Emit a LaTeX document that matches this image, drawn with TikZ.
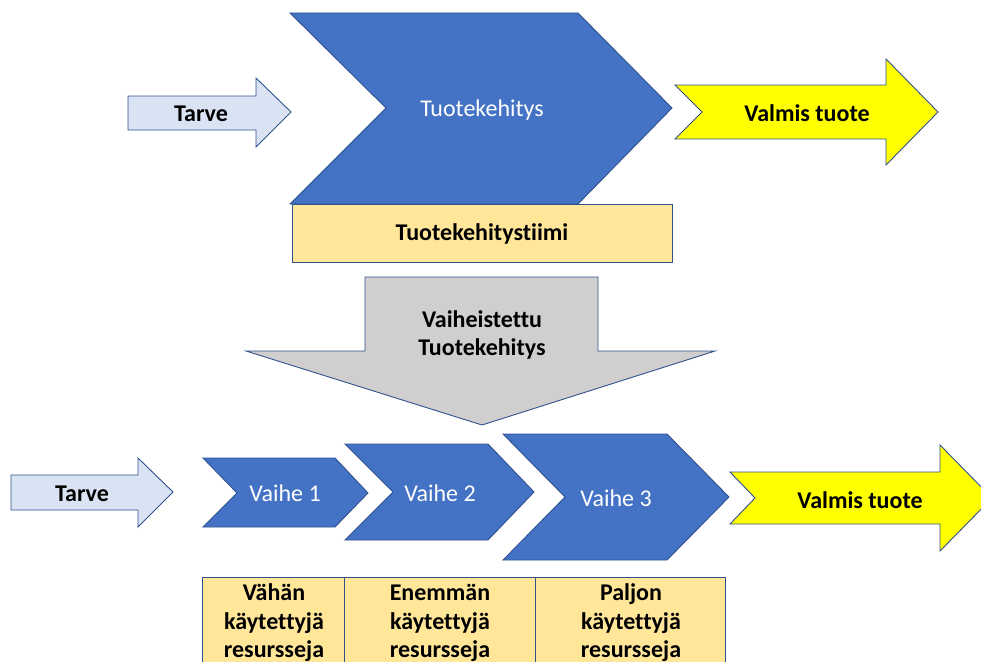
\documentclass[tikz,border=0pt]{standalone}
\usepackage{fontspec}
\setmainfont{Carlito}[Ligatures=NoCommon]
\definecolor{edge}{HTML}{2F528F}
\definecolor{blu}{HTML}{4472C4}
\definecolor{ltblue}{HTML}{DAE3F3}
\definecolor{yel}{HTML}{FFFF00}
\definecolor{ltyel}{HTML}{FFE699}
\definecolor{gry}{HTML}{D0CECE}
\begin{document}
\begin{tikzpicture}[x=1pt,y=-1pt,
  shp/.style={draw=edge, line width=0.9pt, line join=miter},
  txt/.style={font=\fontsize{24}{28.5}\selectfont, align=center, inner sep=0pt},
  btxt/.style={font=\fontsize{24}{28.5}\selectfont\bfseries, align=center, inner sep=0pt}]
\useasboundingbox (0,0) rectangle (981,661);
\clip (0,0) rectangle (981,661);
% top row
\draw[shp, fill=ltblue] (128,96) -- (256,96) -- (256,78) -- (291,112) -- (256,147) -- (256,130) -- (128,130) -- cycle;
\node[btxt] (tarve1) at (201,114) {Tarve};
\draw[shp, fill=blu] (290,13) -- (578,13) -- (672,108) -- (578,204) -- (290,204) -- (386,108) -- cycle;
\node[txt, text=white] (tk) at (482,110) {Tuotekehitys};
\draw[shp, fill=ltyel] (292,204) rectangle (672,262);
\node[btxt] (tiimi) at (482,234) {Tuotekehitystiimi};
\draw[shp, fill=yel] (675,85) -- (886,85) -- (886,59) -- (938,112) -- (886,165) -- (886,139) -- (675,139) -- (702,112) -- cycle;
\node[btxt] (valmis1) at (807,113) {Valmis tuote};
% down arrow
\draw[shp, fill=gry] (365,277) -- (598,277) -- (598,351) -- (715,351) -- (482,425) -- (246,351) -- (365,351) -- cycle;
\node[btxt] (vaih) at (482,335) {Vaiheistettu\\Tuotekehitys};
% bottom row
\draw[shp, fill=ltblue] (11,475) -- (138,475) -- (138,458) -- (173,492) -- (138,527) -- (138,510) -- (11,510) -- cycle;
\node[btxt] (tarve2) at (82,494) {Tarve};
\draw[shp, fill=blu] (203,458) -- (335,458) -- (368,493) -- (335,527) -- (203,527) -- (237,493) -- cycle;
\node[txt, text=white] (v1) at (285,493) {Vaihe 1};
\draw[shp, fill=blu] (345,444) -- (488,444) -- (534,492) -- (488,540) -- (345,540) -- (393,492) -- cycle;
\node[txt, text=white] (v2) at (440,493) {Vaihe 2};
\draw[shp, fill=blu] (503,434) -- (667,434) -- (729,497) -- (667,560) -- (503,560) -- (565,497) -- cycle;
\node[txt, text=white] (v3) at (616,498) {Vaihe 3};
\draw[shp, fill=yel] (730,472) -- (940,472) -- (940,445) -- (992,498) -- (940,551) -- (940,524) -- (730,524) -- (755,498) -- cycle;
\node[btxt] (valmis2) at (860,500) {Valmis tuote};
% resource boxes
\draw[shp, fill=ltyel] (202,577) rectangle (344,700);
\draw[shp, fill=ltyel] (344,577) rectangle (535,700);
\draw[shp, fill=ltyel] (535,577) rectangle (725,700);
\node[btxt] (r1) at (274,623) {Vähän\\käytettyjä\\resursseja};
\node[btxt] (r2) at (440,623) {Enemmän\\käytettyjä\\resursseja};
\node[btxt] (r3) at (631,623) {Paljon\\käytettyjä\\resursseja};
\end{tikzpicture}
\end{document}
